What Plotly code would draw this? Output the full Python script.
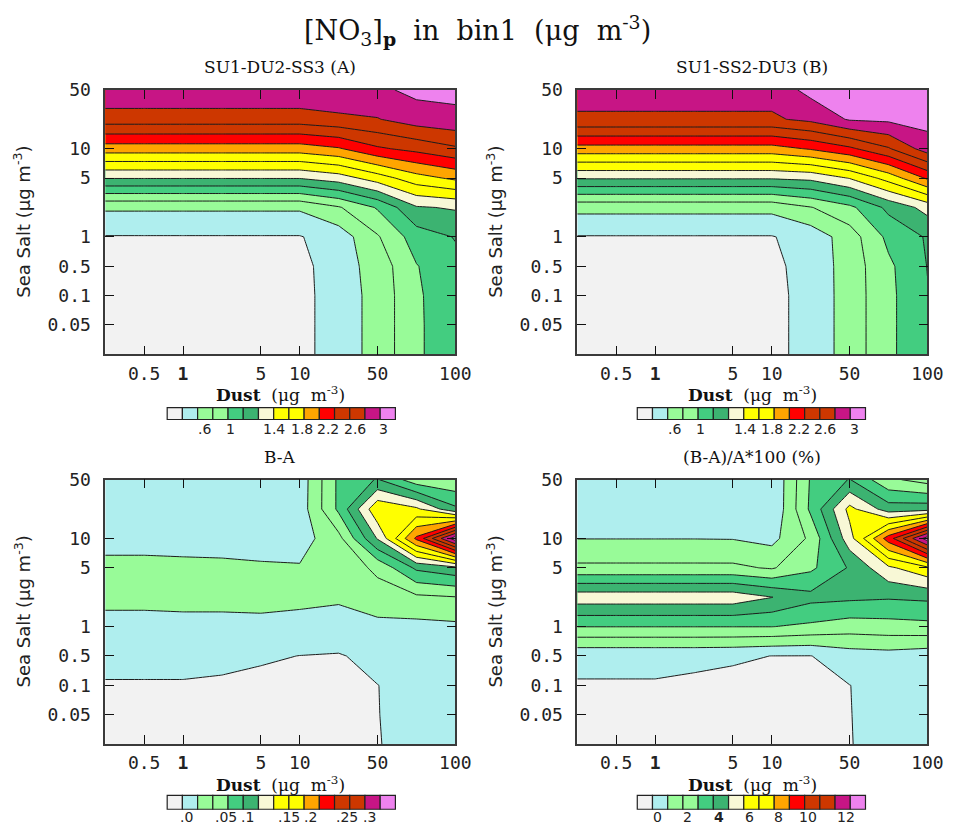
import plotly.graph_objects as go

# ---- grid (index positions of the dust / sea-salt grid) ----
dust_idx = list(range(10))
salt_idx = list(range(10))

dust_tickpos = [1, 2, 4, 5, 7, 9]
dust_ticktext = ["0.5", "<b>1</b>", "5", "10", "50", "100"]
salt_tickpos = [1, 2, 3, 4, 6, 7, 9]
salt_ticktext = ["0.05", "0.1", "0.5", "1", "5", "10", "50"]

# ---- shared 15-colour fill table ----
fill_colors = [
    "#f2f2f2", "#afeeee", "#98fb98", "#98fb98", "#43cd80", "#3cb371",
    "#f8f8d6", "#ffff00", "#ffff00", "#ffa500", "#ff0000", "#cd3700",
    "#cd3700", "#c71585", "#ee82ee",
]

# ---- [NO3]p, rows = sea salt (low -> high), cols = dust (low -> high) ----
no3_A = [
    [0.05, 0.05, 0.05, 0.05, 0.05, 0.13, 0.31, 0.46, 0.78, 0.88],
    [0.06, 0.06, 0.06, 0.06, 0.06, 0.13, 0.31, 0.46, 0.78, 0.88],
    [0.08, 0.08, 0.08, 0.08, 0.08, 0.13, 0.31, 0.46, 0.78, 0.89],
    [0.12, 0.12, 0.12, 0.12, 0.12, 0.14, 0.31, 0.48, 0.79, 0.95],
    [0.19, 0.19, 0.19, 0.19, 0.19, 0.19, 0.29, 0.58, 0.90, 1.01],
    [0.43, 0.43, 0.43, 0.43, 0.43, 0.43, 0.58, 0.82, 1.18, 1.22],
    [1.21, 1.21, 1.21, 1.21, 1.21, 1.21, 1.30, 1.50, 1.72, 1.84],
    [1.90, 1.90, 1.90, 1.90, 1.90, 1.90, 1.98, 2.17, 2.26, 2.37],
    [2.50, 2.50, 2.50, 2.50, 2.50, 2.50, 2.55, 2.59, 2.70, 2.74],
    [2.77, 2.77, 2.77, 2.77, 2.77, 2.77, 2.78, 2.76, 2.85, 2.86],
]

no3_B = [
    [0.05, 0.05, 0.05, 0.05, 0.05, 0.15, 0.265, 0.49, 0.75, 0.99],
    [0.06, 0.06, 0.06, 0.06, 0.06, 0.15, 0.265, 0.49, 0.75, 0.99],
    [0.08, 0.08, 0.08, 0.08, 0.08, 0.15, 0.265, 0.49, 0.75, 0.99],
    [0.12, 0.12, 0.12, 0.12, 0.12, 0.16, 0.27, 0.49, 0.76, 1.005],
    [0.19, 0.19, 0.19, 0.19, 0.19, 0.19, 0.28, 0.50, 0.85, 1.02],
    [0.46, 0.46, 0.46, 0.46, 0.46, 0.46, 0.59, 0.75, 1.05, 1.27],
    [1.22, 1.22, 1.22, 1.22, 1.22, 1.22, 1.25, 1.41, 1.68, 2.03],
    [1.92, 1.92, 1.92, 1.92, 1.92, 1.92, 2.02, 2.16, 2.38, 2.70],
    [2.57, 2.57, 2.57, 2.57, 2.57, 2.57, 2.65, 2.82, 2.84, 2.87],
    [2.68, 2.68, 2.68, 2.68, 2.68, 2.68, 2.86, 2.95, 2.95, 2.96],
]

diff_BA = [
    [-0.010, -0.010, -0.010, -0.010, -0.010, -0.010, -0.010, -0.001, 0.008, 0.010],
    [-0.008, -0.008, -0.008, -0.008, -0.008, -0.008, -0.008, -0.0005, 0.008, 0.010],
    [-0.002, -0.002, -0.002, -0.0035, -0.006, -0.006, -0.006, -0.0003, 0.008, 0.010],
    [0.008, 0.008, 0.008, 0.0065, 0.003, -0.0003, -0.002, 0.008, 0.010, 0.012],
    [0.020, 0.020, 0.020, 0.020, 0.020, 0.018, 0.019, 0.018, 0.018, 0.020],
    [0.029, 0.029, 0.030, 0.030, 0.031, 0.030, 0.027, 0.040, 0.045, 0.049],
    [0.028, 0.028, 0.028, 0.028, 0.027, 0.027, 0.035, 0.055, 0.105, 0.118],
    [0.021, 0.021, 0.020, 0.019, 0.018, 0.014, 0.042, 0.127, 0.230, 0.340],
    [0.015, 0.015, 0.014, 0.013, 0.012, 0.011, 0.080, 0.170, 0.155, 0.105],
    [0.012, 0.012, 0.011, 0.011, 0.010, 0.010, 0.080, 0.102, 0.060, 0.055],
]

diff_pct = [
    [-0.6, -0.6, -0.6, -0.6, -0.6, -0.6, -0.6, -0.03, 0.3, 0.3],
    [-0.5, -0.5, -0.5, -0.5, -0.5, -0.5, -0.5, -0.02, 0.3, 0.3],
    [-0.056, -0.056, -0.056, -0.15, -0.3, -0.3, -0.3, -0.01, 0.3, 0.3],
    [0.2, 0.2, 0.2, 0.2, 0.15, -0.01, -0.02, 0.5, 0.6, 0.4],
    [3.02, 3.02, 3.02, 3.02, 3.02, 3.02, 2.8, 2.5, 2.6, 2.7],
    [5.6, 5.6, 5.6, 5.6, 5.6, 5.02, 4.3, 4.2, 4.1, 4.2],
    [2.2, 2.2, 2.2, 2.2, 2.2, 1.9, 2.8, 4.1, 5.8, 6.8],
    [0.98, 0.98, 0.98, 0.98, 0.96, 0.7, 2.2, 5.6, 9.5, 13.5],
    [0.7, 0.7, 0.7, 0.7, 0.6, 0.05, 3.2, 6.3, 4.5, 4.6],
    [0.6, 0.6, 0.6, 0.6, 0.5, 0.05, 3.1, 4.05, 2.2, 1.6],
]

# contour levels (start, end, step) and label-bar tick labels
levels_conc = (0.2, 2.8, 0.2)
levels_diff = (0.0, 0.325, 0.025)
levels_pct = (0.0, 13.0, 1.0)

bar_labels_conc = [".6", "1", "1.4", "1.8", "2.2", "2.6", "3"]
bar_labels_diff = [".0", ".05", ".1", ".15", ".2", ".25", ".3"]
bar_labels_pct = ["0", "2", "<b>4</b>", "6", "8", "10", "12"]

panel_titles = ["SU1-DU2-SS3 (A)", "SU1-SS2-DU3 (B)", "B-A", "(B-A)/A*100 (%)"]

# ---------------------------------------------------------------------------
W, H = 967, 828


def px(x):
    return x / W


def py(y):
    return 1 - y / H


colorscale = [[i / (len(fill_colors) - 1), c] for i, c in enumerate(fill_colors)]


def contour(z, lev, xa, ya):
    start, end, step = lev
    return go.Contour(
        x=dust_idx, y=salt_idx, z=z, xaxis=xa, yaxis=ya,
        autocontour=False,
        contours=dict(start=start, end=end + step * 0.01, size=step,
                      coloring="fill", showlines=True),
        colorscale=colorscale, showscale=False,
        line=dict(color="#1c1c1c", width=1, smoothing=0),
        hoverinfo="skip",
    )


fig = go.Figure()
fig.add_trace(contour(no3_A, levels_conc, "x", "y"))
fig.add_trace(contour(no3_B, levels_conc, "x2", "y2"))
fig.add_trace(contour(diff_BA, levels_diff, "x3", "y3"))
fig.add_trace(contour(diff_pct, levels_pct, "x4", "y4"))

# plot frames in pixels: (left, right, top, bottom)
frames = [(107, 463, 80, 348), (587, 943, 80, 348),
          (107, 463, 475, 743), (587, 943, 475, 743)]

serif = "DejaVu Serif, Liberation Serif, serif"
sans = "DejaVu Sans, Liberation Sans, sans-serif"
mono = "DejaVu Sans Mono, Liberation Mono, monospace"
tick_font = dict(family=mono, size=18, color="#222")


def xaxis_cfg(fr, anchor):
    return dict(domain=[px(fr[0]), px(fr[1])], anchor=anchor, range=[0, 9],
                tickvals=dust_tickpos, ticktext=dust_ticktext,
                showgrid=False, zeroline=False, showline=True,
                linecolor="#3a3a3a", linewidth=1.5, mirror="ticks",
                ticks="inside", ticklen=9, tickwidth=1.3, tickcolor="#111",
                tickfont=tick_font, ticklabelstandoff=2)


def yaxis_cfg(fr, anchor):
    return dict(domain=[py(fr[3]), py(fr[2])], anchor=anchor, range=[0, 9],
                tickvals=salt_tickpos, ticktext=salt_ticktext,
                showgrid=False, zeroline=False, showline=True,
                linecolor="#3a3a3a", linewidth=1.5, mirror="ticks",
                ticks="inside", ticklen=9, tickwidth=1.3, tickcolor="#111",
                tickfont=tick_font, ticklabelstandoff=9)


layout = dict(
    width=W, height=H, margin=dict(l=0, r=0, t=0, b=0),
    paper_bgcolor="white", plot_bgcolor="white", showlegend=False,
)
axis_names = [("xaxis", "yaxis", "x", "y"), ("xaxis2", "yaxis2", "x2", "y2"),
              ("xaxis3", "yaxis3", "x3", "y3"), ("xaxis4", "yaxis4", "x4", "y4")]
for fr, (xn, yn, xi, yi) in zip(frames, axis_names):
    layout[xn] = xaxis_cfg(fr, yi)
    layout[yn] = yaxis_cfg(fr, xi)
fig.update_layout(**layout)

annotations = []
shapes = []
nb = "\u00a0"

# main title
annotations.append(dict(
    x=px(486), y=py(20), xref="paper", yref="paper", showarrow=False,
    text=(f"[NO<sub>3</sub>]<sub><b>p</b></sub>{nb}{nb}in{nb}{nb}bin1"
          f"{nb}{nb}(μg{nb}{nb}m<sup>-3</sup>)"),
    font=dict(family=serif, size=27, color="#111"), xanchor="center", yanchor="middle"))

# per-panel texts
for k, fr in enumerate(frames):
    cx = (fr[0] + fr[1]) / 2
    cy = (fr[2] + fr[3]) / 2
    annotations.append(dict(
        x=px(cx), y=py(fr[2] - 23), xref="paper", yref="paper", showarrow=False,
        text=panel_titles[k], font=dict(family=serif, size=17, color="#111"),
        xanchor="center", yanchor="middle"))
    annotations.append(dict(
        x=px(cx), y=py(fr[3] + 40), xref="paper", yref="paper", showarrow=False,
        text=f"<b>Dust</b>{nb}{nb}(μg{nb}{nb}m<sup>-3</sup>)",
        font=dict(family=serif, size=17, color="#111"),
        xanchor="center", yanchor="middle"))
    annotations.append(dict(
        x=px(fr[0] - 84), y=py(cy), xref="paper", yref="paper", showarrow=False,
        text=f"Sea{nb}Salt{nb}(μg{nb}m<sup>-3</sup>)", textangle=-90,
        font=dict(family=sans, size=18, color="#222"),
        xanchor="center", yanchor="middle"))

# label bars
cell_w = 15.47
bars = [
    (170, 402, 414, 424, bar_labels_conc, [2.45, 4.15, 7.05, 8.85, 10.6, 12.35, 14.25]),
    (648, 402, 414, 424, bar_labels_conc, [2.45, 4.15, 7.05, 8.85, 10.6, 12.35, 14.25]),
    (170, 795, 809, 817, bar_labels_diff, [1.3, 3.85, 5.25, 8.0, 9.4, 11.85, 13.3]),
    (648, 795, 809, 817, bar_labels_pct, [1.3, 3.3, 5.4, 7.4, 9.3, 11.2, 13.7]),
]
for left, top, bot, ly, labels, lpos in bars:
    for i, c in enumerate(fill_colors):
        x0 = left + i * cell_w
        shapes.append(dict(type="rect", xref="paper", yref="paper",
                           x0=px(x0), x1=px(x0 + cell_w), y0=py(bot), y1=py(top),
                           fillcolor=c, line=dict(color="#222", width=1.2)))
    for lab, p in zip(labels, lpos):
        annotations.append(dict(
            x=px(left + p * cell_w), y=py(ly), xref="paper", yref="paper",
            showarrow=False, text=lab, font=dict(family=sans, size=14, color="#222"),
            xanchor="center", yanchor="middle", borderpad=0))

fig.update_layout(annotations=annotations, shapes=shapes)
fig.write_html("out.html")
